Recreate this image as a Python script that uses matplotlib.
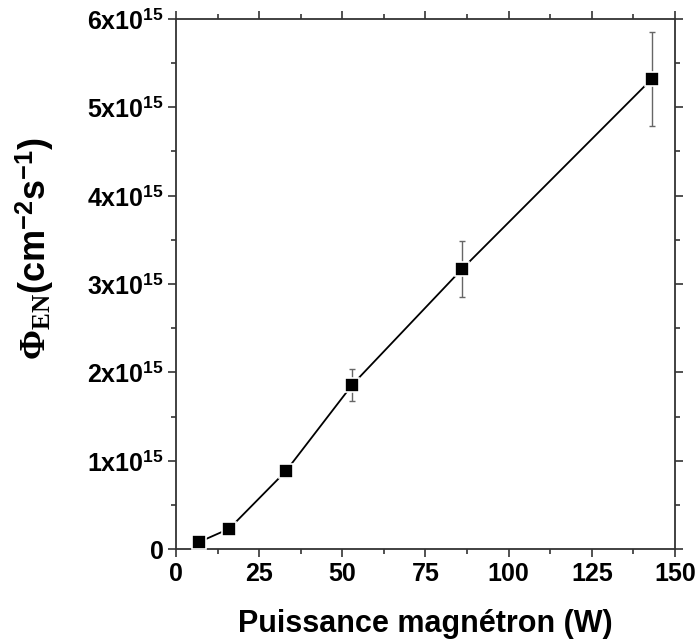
import matplotlib
matplotlib.use("Agg")
import matplotlib.pyplot as plt
from matplotlib.ticker import MultipleLocator, FuncFormatter

# data
power_w = [7, 16, 33, 53, 86, 143]
flux = [0.08e15, 0.23e15, 0.88e15, 1.86e15, 3.17e15, 5.32e15]
flux_err = [0.02e15, 0.03e15, 0.07e15, 0.18e15, 0.32e15, 0.53e15]

x_ticks = [0, 25, 50, 75, 100, 125, 150]
y_ticks = [0, 1e15, 2e15, 3e15, 4e15, 5e15, 6e15]

plt.rcParams.update(
    {
        "font.family": ["Liberation Sans", "DejaVu Sans"],
        "font.weight": "bold",
        "mathtext.fontset": "custom",
        "mathtext.rm": "Liberation Serif",
        "mathtext.sf": "Liberation Sans:bold",
        "mathtext.it": "Liberation Serif:italic",
    }
)

AXIS_COLOR = "#333333"


def y_format(value, pos):
    if abs(value) < 1:
        return "0"
    return f"{value / 1e15:.0f}x10$^{{\\mathsf{{15}}}}$"


fig = plt.figure(figsize=(7.0, 6.39), dpi=100)
ax = fig.add_axes([0.2514, 0.1408, 0.7129, 0.8295])

ax.errorbar(
    power_w,
    flux,
    yerr=flux_err,
    fmt="none",
    ecolor="#666666",
    elinewidth=1.0,
    capsize=2.3,
    capthick=1.0,
    zorder=2,
)
ax.plot(
    power_w,
    flux,
    color="black",
    linewidth=1.3,
    marker="s",
    markersize=10.5,
    markerfacecolor="black",
    markeredgecolor="white",
    markeredgewidth=1.2,
    zorder=3,
)

ax.set_xlim(0, 150)
ax.set_ylim(0, 6e15)
ax.set_xticks(x_ticks)
ax.set_yticks(y_ticks)
ax.xaxis.set_minor_locator(MultipleLocator(12.5))
ax.yaxis.set_minor_locator(MultipleLocator(0.5e15))
ax.yaxis.set_major_formatter(FuncFormatter(y_format))

for spine in ax.spines.values():
    spine.set_color(AXIS_COLOR)
    spine.set_linewidth(1.3)

ax.tick_params(
    which="both", direction="out", top=True, right=True,
    color=AXIS_COLOR, width=1.2, labelsize=18, labelcolor="black",
)
ax.tick_params(which="major", length=6, pad=3)
ax.tick_params(which="minor", length=3.5)

ax.set_xlabel("Puissance magnétron (W)", fontsize=22, fontweight="bold", labelpad=17)
ax.set_ylabel(
    r"$\Phi_{\mathrm{EN}}$(cm$^{\mathsf{-2}}$s$^{\mathsf{-1}}$)",
    fontsize=26,
    fontweight="bold",
)
# the label sits a bit above the axis centre in the original
ax.yaxis.set_label_coords(-0.24, 0.566)

fig.savefig("out.png", dpi=100)
